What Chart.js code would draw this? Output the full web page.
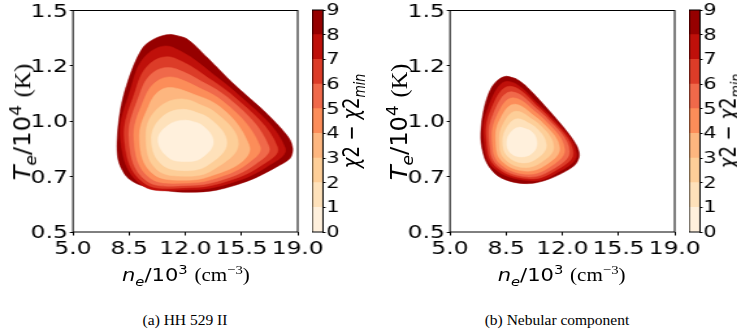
<!DOCTYPE html>
<html>
<head>
<meta charset="utf-8">
<script src="https://cdn.jsdelivr.net/npm/chart.js@4.4.1/dist/chart.umd.min.js"></script>
<style>
  html, body { margin: 0; padding: 0; background: #fff; }
  body { width: 737px; height: 333px; overflow: hidden; position: relative; }
  /* the figure is laid out narrow and stretched sideways, like the printed panels */
  #figure { position: absolute; left: 0; top: 0; width: 570px; height: 300px;
            transform: scaleX(1.3); transform-origin: 0 0; }
  #figure canvas { position: absolute; top: 0; }
  .title { position: absolute; font-family: "DejaVu Sans"; font-size: 18px; line-height: 1;
           white-space: nowrap; color: #000; }
  .title .serif { font-family: "Liberation Serif"; }
  .title sub, .title sup { font-size: 0.7em; line-height: 0; }
  .ytitle { transform: translate(-50%, -50%) rotate(-90deg) scaleX(1.35); }
  .ctitle { transform: translate(-50%, -50%) rotate(-90deg); }
  .xtitle { transform: translateX(-50%) scaleX(0.9); }
  .caption { position: absolute; top: 311px; font-family: "Liberation Serif"; font-size: 15.5px;
             white-space: nowrap; transform: translateX(-50%); color: #000; }
</style>
</head>
<body>
<div id="figure">
  <canvas id="hh-chart" width="260" height="262" style="left:0px"></canvas>
  <canvas id="hh-bar" width="40" height="242" style="left:239.8px"></canvas>
  <canvas id="neb-chart" width="260" height="262" style="left:290px"></canvas>
  <canvas id="neb-bar" width="40" height="242" style="left:529.5px"></canvas>

  <div class="title ytitle" style="left:17px; top:121.5px"><i>T</i><sub><i>e</i></sub>/10<sup>4</sup> <span class="serif">(K)</span></div>
  <div class="title xtitle" style="left:142.6px; top:266px"><i>n</i><sub><i>e</i></sub>/10<sup>3</sup> <span class="serif">(cm<sup>−3</sup>)</span></div>
  <div class="title ctitle" style="left:270px; top:121px"><i>χ</i>2 − <i>χ</i>2<sub><i>min</i></sub></div>

  <div class="title ytitle" style="left:306.7px; top:121.5px"><i>T</i><sub><i>e</i></sub>/10<sup>4</sup> <span class="serif">(K)</span></div>
  <div class="title xtitle" style="left:432.4px; top:266px"><i>n</i><sub><i>e</i></sub>/10<sup>3</sup> <span class="serif">(cm<sup>−3</sup>)</span></div>
  <div class="title ctitle" style="left:559.7px; top:121px"><i>χ</i>2 − <i>χ</i>2<sub><i>min</i></sub></div>
</div>
<div class="caption" style="left:185px">(a) HH 529 II</div>
<div class="caption" style="left:557px">(b) Nebular component</div>

<script>
// Axis ticks
const densityTicks = [5.0, 8.5, 12.0, 15.5, 19.0];
const tempTicks = [0.5, 0.75, 1.0, 1.25, 1.5];
const tempTickLabels = ['0.5', '0.7', '1.0', '1.2', '1.5'];

// chi2 - chi2_min contour levels and the OrRd band colours between them
const chiLevels = [0, 1, 2, 3, 4, 5, 6, 7, 8, 9];
const bandColors = ['#fff0dc', '#fee1ba', '#fdce98', '#fdb67f', '#fc8d59',
                    '#f0694a', '#dc3c28', '#bf100a', '#960000'];

// HH 529 II: contour outlines [n_e/1e3, T_e/1e4], level 1 (inner) to level 9 (outer)
const hhLevel1 = [[11.98,1.005],[13.04,0.982],[13.74,0.905],[12.98,0.833],[12.04,0.818],[10.99,0.834],[10.30,0.914],[10.92,0.982]];
const hhLevel2 = [[11.85,1.054],[13.48,1.014],[14.58,0.901],[13.41,0.802],[12.10,0.777],[10.56,0.803],[9.89,0.914],[10.47,1.014]];
const hhLevel3 = [[11.73,1.101],[13.85,1.041],[15.30,0.896],[13.71,0.780],[12.13,0.752],[10.25,0.780],[9.55,0.914],[10.08,1.043]];
const hhLevel4 = [[11.60,1.146],[14.18,1.064],[15.97,0.892],[15.58,0.821],[13.96,0.762],[12.17,0.734],[9.99,0.762],[9.14,0.914],[9.72,1.069],[10.54,1.144]];
const hhLevel5 = [[11.48,1.195],[14.45,1.084],[16.65,0.887],[15.95,0.813],[14.15,0.748],[12.20,0.721],[9.77,0.745],[8.80,0.914],[9.39,1.092],[10.29,1.184]];
const hhLevel6 = [[11.39,1.237],[14.71,1.103],[17.21,0.885],[16.32,0.804],[14.32,0.736],[12.23,0.710],[9.57,0.731],[8.49,0.914],[9.11,1.113],[10.05,1.223]];
const hhLevel7 = [[11.29,1.286],[14.91,1.118],[17.74,0.883],[16.64,0.796],[14.46,0.726],[12.26,0.700],[9.42,0.721],[8.21,0.914],[8.86,1.131],[9.82,1.262]];
const hhLevel8 = [[11.17,1.335],[15.11,1.132],[18.21,0.881],[16.96,0.789],[14.60,0.716],[12.29,0.691],[9.29,0.711],[7.97,0.914],[8.61,1.149],[9.59,1.300]];
const hhLevel9 = [[11.04,1.392],[12.08,1.373],[13.33,1.290],[14.99,1.170],[17.07,1.035],[18.41,0.929],[18.69,0.877],
                  [18.52,0.832],[17.69,0.794],[16.03,0.734],[13.95,0.689],[12.29,0.679],[10.84,0.686],[9.17,0.712],
                  [8.35,0.749],[7.82,0.824],[7.76,0.929],[8.03,1.080],[8.66,1.230],[9.38,1.335],[10.11,1.374]];

// Nebular component: same levels
const nebLevel1 = [[9.31,0.973],[10.09,0.953],[10.42,0.901],[10.12,0.856],[9.44,0.839],[8.77,0.857],[8.54,0.905],[8.80,0.951]];
const nebLevel2 = [[9.22,1.011],[10.35,0.971],[11.00,0.892],[10.44,0.833],[9.50,0.812],[8.58,0.843],[8.29,0.905],[8.53,0.971]];
const nebLevel3 = [[9.13,1.045],[10.55,0.986],[11.46,0.885],[10.69,0.815],[9.56,0.791],[8.40,0.831],[8.08,0.905],[8.31,0.987]];
const nebLevel4 = [[9.03,1.077],[10.71,0.997],[11.83,0.878],[10.91,0.800],[9.63,0.775],[8.24,0.819],[7.86,0.905],[8.08,1.003]];
const nebLevel5 = [[8.94,1.106],[10.86,1.008],[12.14,0.872],[11.08,0.787],[9.69,0.761],[8.10,0.809],[7.64,0.905],[7.88,1.018]];
const nebLevel6 = [[8.84,1.133],[10.99,1.017],[12.44,0.865],[11.23,0.776],[9.78,0.749],[7.98,0.800],[7.46,0.905],[7.69,1.031]];
const nebLevel7 = [[8.75,1.158],[11.08,1.024],[12.67,0.858],[11.35,0.768],[9.84,0.740],[7.88,0.793],[7.29,0.905],[7.51,1.044]];
const nebLevel8 = [[8.63,1.180],[11.17,1.030],[12.88,0.851],[11.47,0.759],[9.94,0.731],[7.77,0.785],[7.13,0.905],[7.35,1.056]];
const nebLevel9 = [[8.50,1.203],[9.13,1.191],[9.69,1.162],[10.88,1.072],[12.13,0.968],[12.88,0.892],[13.06,0.845],
                   [12.78,0.802],[12.00,0.766],[11.06,0.736],[10.06,0.719],[9.00,0.724],[8.00,0.752],[7.28,0.813],
                   [6.94,0.901],[6.97,0.995],[7.22,1.086],[7.59,1.153],[8.03,1.189]];

const tickFont = { family: 'DejaVu Sans', size: 18, lineHeight: 1 };

// Black box round the plotting area
const framePlugin = {
  id: 'frame',
  afterDatasetsDraw(chart) {
    const { ctx, chartArea: a } = chart;
    ctx.save();
    ctx.strokeStyle = '#000';
    ctx.lineWidth = 1;
    ctx.strokeRect(a.left, a.top, a.right - a.left, a.bottom - a.top);
    ctx.restore();
  }
};

// Repeat the first points so the smoothed outline closes on itself
function closeLoop(points) {
  return points.concat([points[0], points[1]]).map(([x, y]) => ({ x, y }));
}

function makeContourChart(canvasId, outlines) {
  // inner levels first, so they are painted over the outer ones
  const datasets = outlines.map((pts, i) => ({
    data: closeLoop(pts),
    showLine: true,
    fill: 'shape',
    tension: i === outlines.length - 1 ? 0.3 : 0.4,
    backgroundColor: bandColors[i],
    borderColor: bandColors[i],
    borderWidth: 0.5,
    pointRadius: 0
  }));

  return new Chart(document.getElementById(canvasId), {
    type: 'scatter',
    data: { datasets },
    options: {
      responsive: false,
      animation: false,
      events: [],
      layout: { padding: { top: 10, right: 31, left: 0, bottom: 0 } },
      plugins: { legend: { display: false }, tooltip: { enabled: false } },
      scales: {
        x: {
          type: 'linear',
          min: 5,
          max: 19,
          afterBuildTicks: (scale) => { scale.ticks = densityTicks.map(v => ({ value: v })); },
          afterFit: (scale) => { scale.height = 30; },
          ticks: { callback: (v) => v.toFixed(1), font: tickFont, color: '#000', padding: 5, maxRotation: 0, autoSkip: false },
          grid: { drawOnChartArea: false, tickLength: 3.5, color: '#000' },
          border: { display: false }
        },
        y: {
          type: 'linear',
          min: 0.5,
          max: 1.5,
          afterBuildTicks: (scale) => { scale.ticks = tempTicks.map(v => ({ value: v })); },
          afterFit: (scale) => { scale.width = 56.15; },
          ticks: { callback: (v, i) => tempTickLabels[i], font: tickFont, color: '#000', padding: 1.5, labelOffset: 1.5 },
          grid: { drawOnChartArea: false, tickLength: 2.5, color: '#000' },
          border: { display: false }
        }
      }
    },
    plugins: [framePlugin]
  });
}

function makeColorbar(canvasId) {
  const datasets = bandColors.map((color, i) => ({
    data: [chiLevels[i + 1] - chiLevels[i]],
    backgroundColor: color,
    borderWidth: 0,
    barPercentage: 1,
    categoryPercentage: 1
  }));

  return new Chart(document.getElementById(canvasId), {
    type: 'bar',
    data: { labels: [''], datasets },
    options: {
      responsive: false,
      animation: false,
      events: [],
      layout: { padding: { top: 10, bottom: 10, left: 0, right: 0 } },
      plugins: { legend: { display: false }, tooltip: { enabled: false } },
      scales: {
        x: { display: false, stacked: true },
        y: {
          stacked: true,
          position: 'right',
          min: chiLevels[0],
          max: chiLevels[chiLevels.length - 1],
          afterBuildTicks: (scale) => { scale.ticks = chiLevels.map(v => ({ value: v })); },
          afterFit: (scale) => { scale.width = 31.54; },
          ticks: { font: { family: 'DejaVu Sans', size: 16, lineHeight: 1 }, color: '#000', padding: 0.5, labelOffset: 1 },
          grid: { drawOnChartArea: false, tickLength: 2, color: '#000' },
          border: { display: false }
        }
      }
    },
    plugins: [framePlugin]
  });
}

makeContourChart('hh-chart', [hhLevel1, hhLevel2, hhLevel3, hhLevel4, hhLevel5, hhLevel6, hhLevel7, hhLevel8, hhLevel9]);
makeColorbar('hh-bar');
makeContourChart('neb-chart', [nebLevel1, nebLevel2, nebLevel3, nebLevel4, nebLevel5, nebLevel6, nebLevel7, nebLevel8, nebLevel9]);
makeColorbar('neb-bar');
</script>
</body>
</html>
